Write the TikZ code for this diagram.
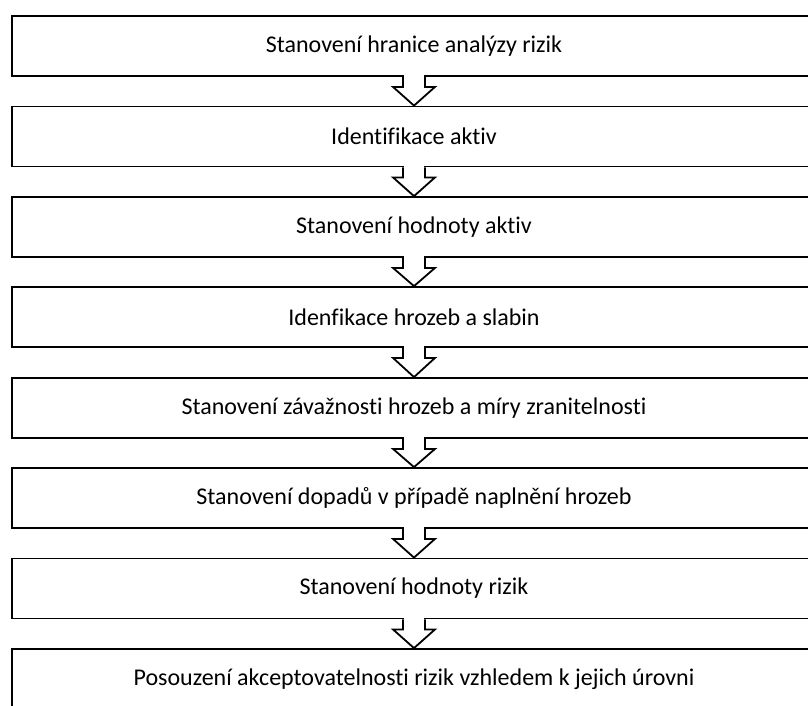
\documentclass[tikz,border=0pt]{standalone}
\usepackage{fontspec}
\setmainfont[Ligatures=NoCommon]{Carlito}
\usetikzlibrary{calc}
\tikzset{
  stagebox/.style={draw=black, line width=1.8pt, fill=white, minimum width=804pt, minimum height=60pt, inner sep=0pt, font=\fontsize{24}{28}\selectfont, anchor=center},
  blockarrow/.style={draw=black, line width=1.8pt, line join=miter},
}
\begin{document}
\begin{tikzpicture}[x=1pt,y=-1pt]
\useasboundingbox (0,0) rectangle (808,705);
\clip (0,0) rectangle (808,705);
\node[stagebox] (b1) at (414,46) {Stanovení hranice analýzy rizik};
\node[stagebox] (b2) at (414,136.5) {Identifikace aktiv};
\node[stagebox] (b3) at (414,227) {Stanovení hodnoty aktiv};
\node[stagebox] (b4) at (414,317) {Idenfikace hrozeb a slabin};
\node[stagebox] (b5) at (414,408) {Stanovení závažnosti hrozeb a míry zranitelnosti};
\node[stagebox] (b6) at (414,498) {Stanovení dopadů v případě naplnění hrozeb};
\node[stagebox] (b7) at (414,588.5) {Stanovení hodnoty rizik};
\node[stagebox] (b8) at (414,679) {Posouzení akceptovatelnosti rizik vzhledem k jejich úrovni};
\foreach \a/\b in {b1/b2,b2/b3,b3/b4,b4/b5,b5/b6,b6/b7,b7/b8}{
  \fill[white] ($(\a.south)+(-10,-1.5)$) rectangle ($(\a.south)+(10,10)$);
  \draw[blockarrow] ($(\a.south)+(-11,0)$) -- ($(\a.south)+(-11,10)$) -- ($(\a.south)+(-21,10)$) -- (\b.north) -- ($(\a.south)+(21,10)$) -- ($(\a.south)+(11,10)$) -- ($(\a.south)+(11,0)$);
}
\end{tikzpicture}
\end{document}
